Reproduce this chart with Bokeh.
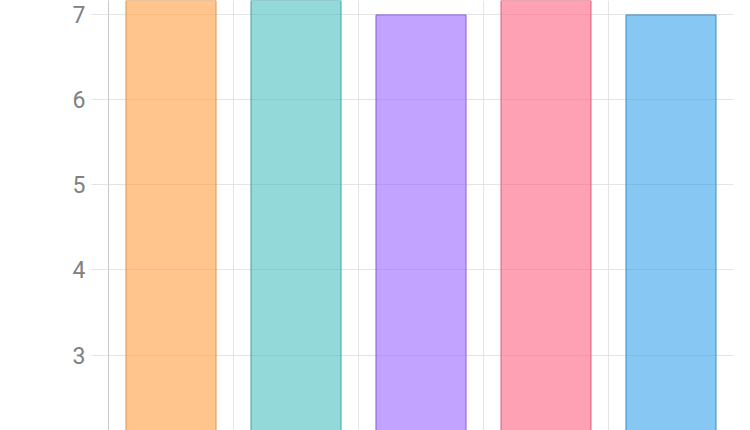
import numpy as np
from bokeh.plotting import figure
from bokeh.models import ColumnDataSource, FixedTicker, Range1d
from bokeh.embed import file_html
from bokeh.resources import INLINE

categories = ["Orange", "Teal", "Purple", "Red", "Blue"]
values = [8, 9, 7, 10, 7]
fill_colors = ["#FF9F40", "#4BC0C0", "#9966FF", "#FF6384", "#36A2EB"]
line_colors = ["#D9954F", "#3FA3A6", "#8A5CD9", "#D9607A", "#3C8CC4"]
y_ticks = [2, 3, 4, 5, 6, 7]

positions = np.arange(len(categories)) + 0.5
src = ColumnDataSource(dict(x=positions, top=values, fill=fill_colors, line=line_colors, cat=categories))

p = figure(width=750, height=430, output_backend="svg", toolbar_location=None,
           x_range=Range1d(0, len(categories)), y_range=Range1d(2.112, 7.17),
           x_axis_location=None, min_border_left=108, min_border_right=17,
           min_border_top=0, min_border_bottom=0)
p.outline_line_color = None
p.background_fill_color = "white"

p.vbar(x="x", top="top", bottom=0, width=0.72, source=src,
       fill_color="fill", fill_alpha=0.6, line_color="line", line_width=1)

p.xgrid.ticker = FixedTicker(ticks=list(range(1, len(categories))))
p.xgrid.grid_line_color = "#e4e4e4"
p.xgrid.grid_line_width = 1
p.ygrid.grid_line_color = "#e4e4e4"
p.ygrid.grid_line_width = 1

ya = p.yaxis[0]
ya.ticker = FixedTicker(ticks=y_ticks)
ya.axis_line_color = "#c8c8c8"
ya.axis_line_width = 1
ya.major_tick_out = 17
ya.major_tick_in = 0
ya.major_tick_line_color = "#e4e4e4"
ya.minor_tick_line_color = None
ya.major_label_standoff = 6
ya.major_label_text_font = "Roboto"
ya.major_label_text_font_size = "23px"
ya.major_label_text_color = "#808080"

open("out.html", "w").write(file_html(p, INLINE))
